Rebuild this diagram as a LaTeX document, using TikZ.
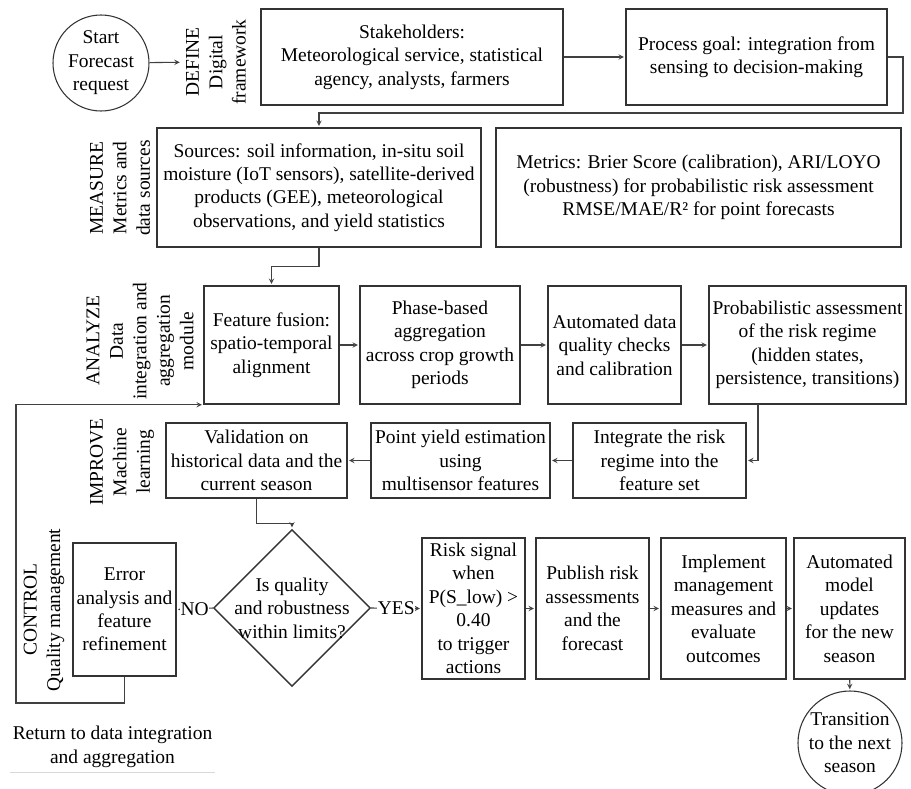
\documentclass[tikz,border=0pt]{standalone}
\usepackage{fontspec}
\setmainfont{Liberation Serif}
\usetikzlibrary{shapes.geometric}

\begin{document}
\begin{tikzpicture}[x=0.75pt,y=-0.75pt,shorten >=1pt,->,>=stealth,line width=0.8pt,
    font=\fontsize{14.6pt}{17.6pt}\selectfont]
    \tikzstyle{every edge}=[draw=black!75]
    \tikzstyle{block}=[rectangle,draw=black!80,line width=1.1pt,align=center,inner sep=1pt]
    \tikzstyle{terminal}=[circle,draw=black!80,line width=0.8pt,align=center,inner sep=0pt]
    \tikzstyle{decision}=[diamond,draw=black!80,line width=1.1pt,aspect=1,inner sep=0pt,
        minimum width=117.75pt,minimum height=117.75pt]
    \tikzstyle{lane}=[rotate=90,align=center]
    \tikzstyle{answer}=[midway,fill=white,text=black,inner sep=0.5pt]

    \useasboundingbox (0,0) rectangle (911,789);

    % Draw the start and end nodes
    \node[terminal,minimum size=72pt] (start) at (101,63) {Start\\Forecast\\request};
    \node[terminal,minimum size=78pt] (next) at (850,743) {Transition\\to the next\\season};

    % Draw the stage labels
    \node[lane] (define) at (216,62) {DEFINE\\Digital\\framework};
    \node[lane] (measure) at (120,188) {MEASURE\\Metrics and\\data sources};
    \node[lane] (analyze) at (140,341) {ANALYZE\\Data\\integration and\\aggregation\\module};
    \node[lane] (improve) at (122,462) {IMPROVE\\Machine\\learning};
    \node[lane] (control) at (44,610) {CONTROL\\Quality management};

    % Define and measure
    \node[block,minimum width=226.5pt,minimum height=72pt] (stake) at (412,57)
        {Stakeholders:\\Meteorological service, statistical\\agency, analysts, farmers};
    \node[block,minimum width=195.75pt,minimum height=72pt] (goal) at (756.5,57)
        {Process goal: integration from\\sensing to decision-making};
    \node[block,minimum width=243pt,minimum height=89.25pt] (sources) at (319,187.5)
        {Sources: soil information, in-situ soil\\moisture (IoT sensors), satellite-derived\\products (GEE), meteorological\\observations, and yield statistics};
    \node[block,minimum width=303.75pt,minimum height=89.25pt] (metrics) at (698.5,187.5)
        {Metrics: Brier Score (calibration), ARI/LOYO\\(robustness) for probabilistic risk assessment\\RMSE/MAE/R² for point forecasts};

    % Analyze row
    \node[block,minimum width=101.25pt,minimum height=88.5pt] (fusion) at (271.5,345)
        {Feature fusion:\\spatio-temporal\\alignment};
    \node[block,minimum width=120pt,minimum height=88.5pt] (phaseagg) at (440,345)
        {Phase-based\\aggregation\\across crop growth\\periods};
    \node[block,minimum width=99.75pt,minimum height=88.5pt] (quality) at (614.5,345)
        {Automated data\\quality checks\\and calibration};
    \node[block,minimum width=147.75pt,minimum height=88.5pt] (prob) at (807.5,345)
        {Probabilistic assessment\\of the risk regime\\(hidden states,\\persistence, transitions)};

    % Improve row
    \node[block,minimum width=129.75pt,minimum height=56.25pt] (integ) at (659.5,460.5)
        {Integrate the risk\\regime into the\\feature set};
    \node[block,minimum width=134.25pt,minimum height=56.25pt] (point) at (460.5,460.5)
        {Point yield estimation\\using\\multisensor features};
    \node[block,minimum width=135.75pt,minimum height=56.25pt] (valid) at (256.5,460.5)
        {Validation on\\historical data and the\\current season};

    % Control row
    \node[decision,label={[align=center]center:Is quality\\and robustness\\within limits?}] (check) at (292,608) {};
    \node[block,minimum width=77.25pt,minimum height=99.75pt] (error) at (124.5,609.5)
        {Error\\analysis and\\feature\\refinement};
    \node[block,minimum width=77.25pt,minimum height=105.75pt] (risk) at (473.5,608.5)
        {Risk signal\\when\\P(S\_low) >\\0.40\\to trigger\\actions};
    \node[block,minimum width=84.75pt,minimum height=105.75pt] (publish) at (592.5,608.5)
        {Publish risk\\assessments\\and the\\forecast};
    \node[block,minimum width=93.75pt,minimum height=105.75pt] (implement) at (723.5,608.5)
        {Implement\\management\\measures and\\evaluate\\outcomes};
    \node[block,minimum width=83.25pt,minimum height=105.75pt] (automodel) at (849.5,608.5)
        {Automated\\model\\updates\\for the new\\season};

    \node[minimum width=152.25pt,minimum height=37.5pt,align=center,inner sep=0pt] (ret) at (112.5,747)
        {Return to data integration\\and aggregation};

    % Connect the nodes
    \path (start) edge (define);
    \path (stake) edge (goal);
    \coordinate (goalturn) at (903,113);
    \draw[black!75] (goal.east) -| (goalturn) -| (sources.north);
    \draw[black!75] (sources.south) -- ++(0,19) -| (fusion.north);

    \foreach \source/\dest in {fusion/phaseagg,phaseagg/quality,quality/prob}
        \path (\source) edge (\dest);

    \coordinate (probout) at (758,404);
    \draw[black!75] (probout) |- (integ.east);
    \path (integ) edge (point);
    \path (point) edge (valid);
    \draw[black!75] (valid.south) -- ++(0,25) -| (check.north);

    \draw[black!75] (check.west) -- node[answer]{NO} (error.east);
    \draw[black!75] (check.east) -- node[answer]{YES} (risk.west);

    \foreach \source/\dest in {risk/publish,publish/implement,implement/automodel,automodel/next}
        \path (\source) edge (\dest);

    % Feedback loop back to the data integration
    \coordinate (loopcorner) at (16,703);
    \draw[black!75] (error.south) |- (loopcorner) |- (fusion.south west);

    \draw[-,black!15,line width=0.6pt,shorten >=0pt] (ret.south west) -- (ret.south east);
\end{tikzpicture}
\end{document}
